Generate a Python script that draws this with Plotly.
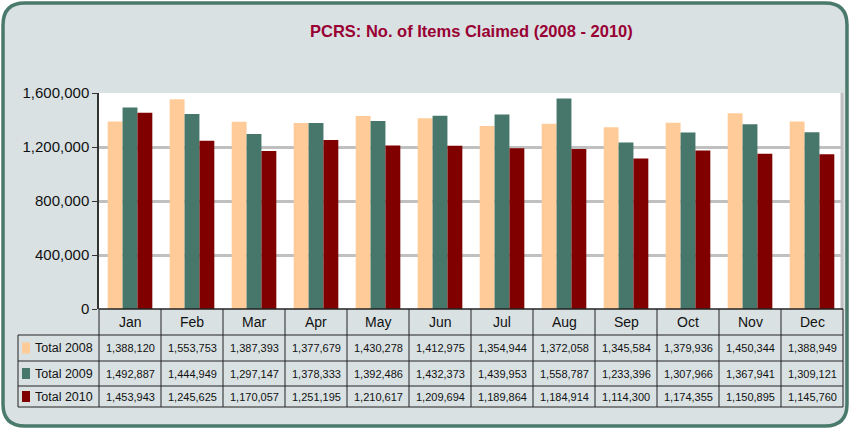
import plotly.graph_objects as go

months = ["Jan", "Feb", "Mar", "Apr", "May", "Jun", "Jul", "Aug", "Sep", "Oct", "Nov", "Dec"]
series_names = ["Total 2008", "Total 2009", "Total 2010"]
total_2008 = [1388120, 1553753, 1387393, 1377679, 1430278, 1412975, 1354944, 1372058, 1345584, 1379936, 1450344, 1388949]
total_2009 = [1492887, 1444949, 1297147, 1378333, 1392486, 1432373, 1439953, 1558787, 1233396, 1307966, 1367941, 1309121]
total_2010 = [1453943, 1245625, 1170057, 1251195, 1210617, 1209694, 1189864, 1184914, 1114300, 1174355, 1150895, 1145760]
y_ticks = [0, 400000, 800000, 1200000, 1600000]
title_text = "PCRS: No. of Items Claimed (2008 - 2010)"

colors = ["#ffcc99", "#47776a", "#800000"]
series = [total_2008, total_2009, total_2010]

W, H = 850, 429
L, R, T, B = 99, 843, 93, 309
pw, ph = R - L, B - T

def px(x):
    return (x - L) / pw

def py(y):
    return (B - y) / ph

FONT = "Liberation Sans, Arial, sans-serif"

fig = go.Figure()
for name, vals, c in zip(series_names, series, colors):
    fig.add_trace(go.Bar(x=months, y=vals, name=name, marker=dict(color=c, line=dict(width=0))))

shapes = []
# outer rounded frame
x0, y0, x1, y1, r = 3, 3, 847, 426, 22
path = (f"M {px(x0+r)},{py(y0)} L {px(x1-r)},{py(y0)} Q {px(x1)},{py(y0)} {px(x1)},{py(y0+r)} "
        f"L {px(x1)},{py(y1-r)} Q {px(x1)},{py(y1)} {px(x1-r)},{py(y1)} "
        f"L {px(x0+r)},{py(y1)} Q {px(x0)},{py(y1)} {px(x0)},{py(y1-r)} "
        f"L {px(x0)},{py(y0+r)} Q {px(x0)},{py(y0)} {px(x0+r)},{py(y0)} Z")
shapes.append(dict(type="path", path=path, xref="paper", yref="paper", layer="below",
                   fillcolor="#d9e1e3", line=dict(color="#4a7a6b", width=3.5)))
# white plot area
shapes.append(dict(type="rect", xref="paper", yref="paper", x0=0, x1=1, y0=0, y1=1, layer="below",
                   fillcolor="white", line=dict(width=0)))
# right border of plot area
shapes.append(dict(type="line", xref="paper", yref="paper", x0=px(R-1), x1=px(R-1), y0=0, y1=1,
                   line=dict(color="#c0c0c0", width=3)))

lc = dict(color="#222222", width=1)
# table horizontal lines
shapes.append(dict(type="line", xref="paper", yref="paper", x0=0, x1=1, y0=0, y1=0, line=dict(color="#222", width=1.5)))
for yy in [335, 361, 386, 407]:
    shapes.append(dict(type="line", xref="paper", yref="paper", x0=px(18), x1=1, y0=py(yy), y1=py(yy), line=lc))
# vertical lines
shapes.append(dict(type="line", xref="paper", yref="paper", x0=px(18), x1=px(18), y0=py(335), y1=py(407), line=lc))
shapes.append(dict(type="line", xref="paper", yref="paper", x0=0, x1=0, y0=0, y1=py(407), line=lc))
shapes.append(dict(type="line", xref="paper", yref="paper", x0=1, x1=1, y0=0, y1=py(407), line=lc))
for i in range(len(months) - 1):
    shapes.append(dict(type="line", xref="x", yref="paper", x0=i + 0.5, x1=i + 0.5, y0=0, y1=py(407), line=lc))

# legend squares
row_centers = [348, 373.5, 396.5]
for c, yc in zip(colors, row_centers):
    shapes.append(dict(type="rect", xref="paper", yref="paper", x0=px(22), x1=px(30),
                       y0=py(yc + 5.5), y1=py(yc - 5.5), fillcolor=c, line=dict(width=0)))

annotations = []
for m in months:
    annotations.append(dict(x=m, y=py(322), xref="x", yref="paper", text=m, showarrow=False,
                            xanchor="center", yanchor="middle",
                            font=dict(family=FONT, size=14, color="#111")))
for name, vals, yc in zip(series_names, series, row_centers):
    annotations.append(dict(x=px(33), y=py(yc), xref="paper", yref="paper", text=name, showarrow=False,
                            xanchor="left", yanchor="middle", font=dict(family=FONT, size=12.5, color="#111")))
    for m, v in zip(months, vals):
        annotations.append(dict(x=m, y=py(yc), xref="x", yref="paper", text=f"{v:,}", showarrow=False,
                                xanchor="center", yanchor="middle",
                                font=dict(family=FONT, size=11, color="#111")))
annotations.append(dict(x=0.5, y=py(31), xref="paper", yref="paper", text=f"<b>{title_text}</b>",
                        showarrow=False, xanchor="center", yanchor="middle",
                        font=dict(family=FONT, size=16.5, color="#990033")))

fig.update_layout(
    width=W, height=H,
    margin=dict(l=L, r=W - R, t=T, b=H - B, pad=0),
    paper_bgcolor="white", plot_bgcolor="rgba(0,0,0,0)",
    barmode="group", bargap=0.28, bargroupgap=0,
    showlegend=False,
    shapes=shapes, annotations=annotations,
    xaxis=dict(range=[-0.5, 11.5], showticklabels=False, showgrid=False, zeroline=False,
               showline=False, ticks="", fixedrange=True),
    yaxis=dict(range=[0, 1600000], tickvals=y_ticks, tickformat=",d", showgrid=True,
               gridcolor="#c0c0c0", gridwidth=3, zeroline=False, showline=True,
               linecolor="#333", linewidth=1.5, ticks="outside", ticklen=5, tickcolor="#333",
               tickfont=dict(family=FONT, size=15, color="#111"), fixedrange=True),
)

fig.write_html("out.html", config={"displayModeBar": False},
               post_script="document.body.style.margin='0px';document.body.style.overflow='hidden';")
